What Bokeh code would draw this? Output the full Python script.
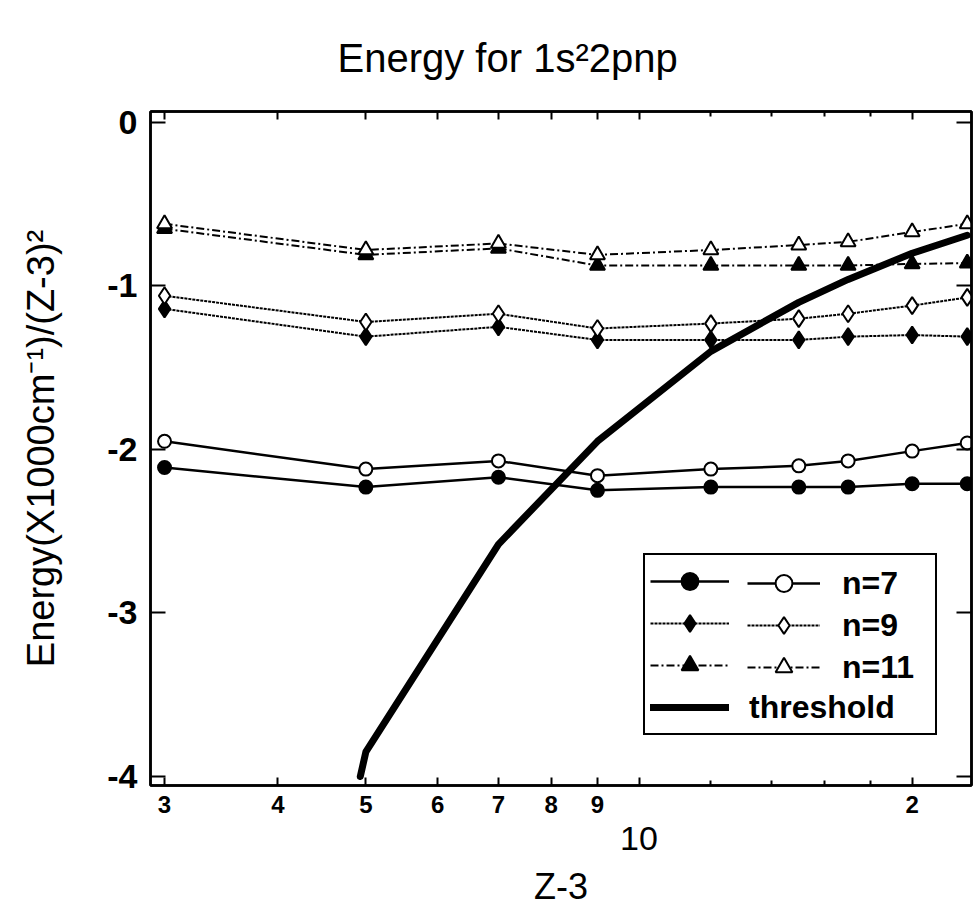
from bokeh.plotting import figure
from bokeh.models import (FixedTicker, LogAxis, LinearAxis, Legend, LegendItem,
                          Range1d, Title, CustomLabelingPolicy)
from bokeh.embed import file_html
from bokeh.resources import INLINE

# ---------------- data ----------------
z3 = [3, 5, 7, 9, 12, 15, 17, 20, 23]
n7_closed = [-2.11, -2.23, -2.17, -2.25, -2.23, -2.23, -2.23, -2.21, -2.21]
n7_open = [-1.95, -2.12, -2.07, -2.16, -2.12, -2.10, -2.07, -2.01, -1.96]
n9_closed = [-1.14, -1.31, -1.25, -1.33, -1.33, -1.33, -1.31, -1.30, -1.31]
n9_open = [-1.06, -1.22, -1.17, -1.26, -1.23, -1.20, -1.17, -1.12, -1.07]
n11_closed = [-0.65, -0.81, -0.77, -0.875, -0.875, -0.875, -0.875, -0.865, -0.86]
n11_open = [-0.62, -0.78, -0.74, -0.81, -0.78, -0.75, -0.73, -0.67, -0.62]
threshold_x = [4.93, 5, 7, 9, 12, 15, 17, 20, 23]
threshold_y = [-4.0, -3.85, -2.58, -1.95, -1.40, -1.10, -0.96, -0.80, -0.69]

xticks = [3, 4, 5, 6, 7, 8, 9, 10, 20]
xtick_labels = ["3", "4", "5", "6", "7", "8", "9", "", "2"]
xminor = [12, 14, 16, 18]
decade_tick = [10]
decade_label = ["10"]
yticks = [0, -1, -2, -3, -4]
ytick_labels = ["0", "-1", "-2", "-3", "-4"]
series_labels = ["n=7", "n=9", "n=11", "threshold"]

FONT = "Liberation Sans"
BLACK = "black"

p = figure(width=974, height=911, x_axis_type="log",
           x_range=Range1d(2.895, 23.25), y_range=Range1d(-4.055, 0.067),
           output_backend="svg", toolbar_location=None, title=None,
           min_border_left=150, min_border_right=3, min_border_top=111,
           min_border_bottom=126)
p.xgrid.visible = False
p.ygrid.visible = False
p.outline_line_color = BLACK
p.outline_line_width = 2.5
p.outline_line_alpha = 1.0
p.background_fill_color = "white"
p.border_fill_color = "white"

# ---------------- series ----------------
def series(y, dash, marker, filled, msize, lw):
    l = p.line(z3, y, line_color=BLACK, line_width=lw, line_dash=dash)
    m = p.scatter(z3, y, marker=marker, size=msize,
                  fill_color=BLACK if filled else "white",
                  line_color=BLACK, line_width=2)
    return [l, m]

r7f = series(n7_closed, "solid", "circle", True, 13, 2.5)
r7o = series(n7_open, "solid", "circle", False, 13, 2.5)
r9f = series(n9_closed, "3 1", "diamond", True, 17, 2)
r9o = series(n9_open, "3 1", "diamond", False, 17, 2)
r11f = series(n11_closed, "8 3 2 3", "triangle", True, 15, 2)
r11o = series(n11_open, "8 3 2 3", "triangle", False, 15, 2)
thr = p.line(threshold_x, threshold_y, line_color=BLACK, line_width=7,
             line_join="round", line_cap="round")

# ---------------- axes ----------------
no_labels = CustomLabelingPolicy(code="for (const i of indices) indices.unset(i)\nreturn indices")

xtick = FixedTicker(ticks=xticks, minor_ticks=xminor)
xa = p.xaxis[0]
xa.ticker = xtick
xa.major_label_overrides = {t: l for t, l in zip(xticks, xtick_labels)}
xa.major_tick_in = 8
xa.major_tick_out = 0
xa.minor_tick_in = 5
xa.minor_tick_out = 0
xa.axis_line_width = 2.5
xa.major_tick_line_width = 2
xa.minor_tick_line_width = 2
xa.major_label_standoff = 10
xa.major_label_text_font = FONT
xa.major_label_text_font_size = "24px"
xa.major_label_text_font_style = "bold"
xa.major_label_text_color = BLACK

xa2 = LogAxis(ticker=FixedTicker(ticks=decade_tick, minor_ticks=[]),
              major_label_overrides={t: l for t, l in zip(decade_tick, decade_label)},
              axis_line_color=None, major_tick_line_color=None,
              minor_tick_line_color=None, major_label_standoff=5,
              major_label_text_font=FONT, major_label_text_font_size="34px",
              major_label_text_color=BLACK,
              axis_label="Z-3", axis_label_text_font=FONT,
              axis_label_text_font_size="36px", axis_label_text_font_style="normal",
              axis_label_text_color=BLACK, axis_label_standoff=13)
p.add_layout(xa2, "below")

ya = p.yaxis[0]
ya.ticker = FixedTicker(ticks=yticks, minor_ticks=[])
ya.major_label_overrides = {t: l for t, l in zip(yticks, ytick_labels)}
ya.major_tick_in = 15
ya.major_tick_out = 0
ya.minor_tick_in = 0
ya.minor_tick_out = 0
ya.axis_line_width = 2.5
ya.major_tick_line_width = 2
ya.major_label_standoff = 13
ya.major_label_text_font = FONT
ya.major_label_text_font_size = "34px"
ya.major_label_text_font_style = "bold"
ya.major_label_text_color = BLACK
ya.axis_label = "Energy(X1000cm\u207b\u00b9)/(Z-3)\u00b2"
ya.axis_label_text_font = FONT
ya.axis_label_text_font_size = "38px"
ya.axis_label_text_font_style = "normal"
ya.axis_label_text_color = BLACK
ya.axis_label_standoff = 42

top = LogAxis(ticker=xtick, major_tick_in=8, major_tick_out=0,
              minor_tick_in=5, minor_tick_out=0, major_label_text_font_size="0px",
              major_label_policy=no_labels,
              major_label_standoff=0, axis_line_width=2.5,
              major_tick_line_width=2, minor_tick_line_width=2)
p.add_layout(top, "above")

right = LinearAxis(ticker=FixedTicker(ticks=yticks, minor_ticks=[]),
                   major_tick_in=15, major_tick_out=0, minor_tick_in=0,
                   minor_tick_out=0, major_label_text_font_size="0px",
                   major_label_policy=no_labels,
                   major_label_standoff=0, axis_line_width=2.5,
                   major_tick_line_width=2)
p.add_layout(right, "right")

p.add_layout(Title(text="Energy for 1s\u00b22pnp", align="left", offset=187,
                   standoff=64, text_font=FONT, text_font_size="40px",
                   text_font_style="normal", text_color=BLACK), "above")

# ---------------- legend ----------------
common = dict(orientation="vertical", padding=5, margin=0, spacing=0,
              glyph_height=42, label_height=42,
              label_text_font=FONT, label_text_font_size="32px",
              label_text_font_style="bold", label_text_color=BLACK)
leg1 = Legend(items=[LegendItem(label=" ", renderers=r7f),
                     LegendItem(label=" ", renderers=r9f),
                     LegendItem(label=" ", renderers=r11f),
                     LegendItem(label=series_labels[3], renderers=[thr])],
              location=(493, 50), glyph_width=79, label_width=181,
              label_standoff=20, border_line_color=BLACK, border_line_width=2.5,
              border_line_alpha=1.0,
              background_fill_color="white", background_fill_alpha=1.0, **common)
leg2 = Legend(items=[LegendItem(label=series_labels[0], renderers=r7o),
                     LegendItem(label=series_labels[1], renderers=r9o),
                     LegendItem(label=series_labels[2], renderers=r11o)],
              location=(592, 92), glyph_width=73, label_standoff=22,
              border_line_alpha=0, background_fill_alpha=0, **common)
p.add_layout(leg1)
p.add_layout(leg2)

open("out.html", "w").write(file_html(p, INLINE))
